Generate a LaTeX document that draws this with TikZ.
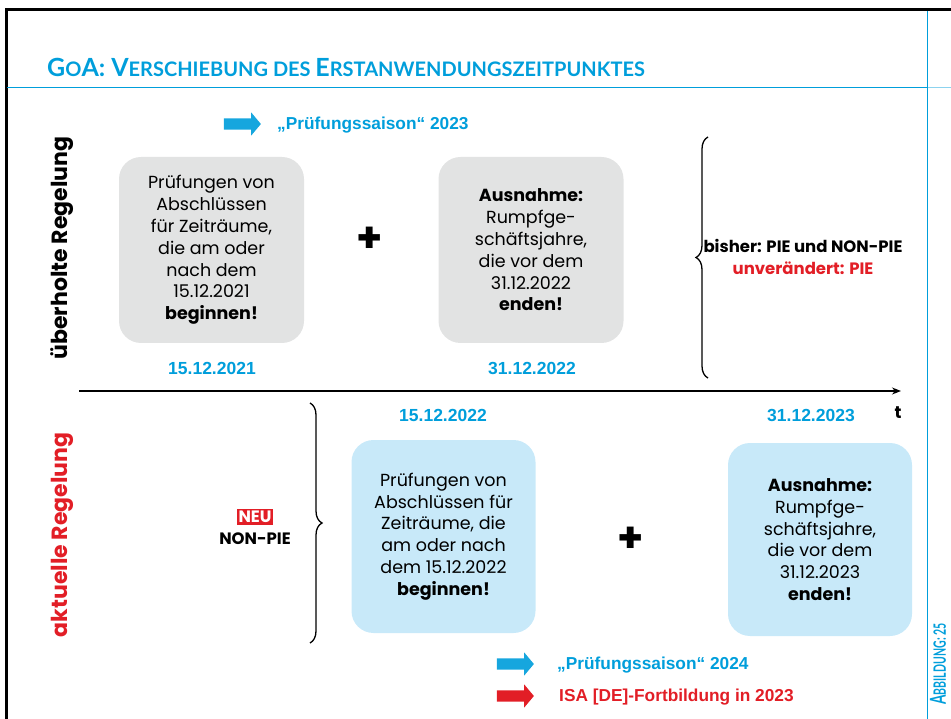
\documentclass[tikz,border=0pt]{standalone}
\usepackage{fontspec}
\setmainfont{Poppins}
\newfontfamily\titlefont{Lato}
\newfontfamily\notefont{Liberation Sans}
\usetikzlibrary{calc, arrows.meta, positioning, shapes.arrows, decorations.pathreplacing}
\definecolor{goablue}{RGB}{0,158,219}
\definecolor{goared}{RGB}{226,30,38}
\definecolor{boxgray}{RGB}{226,227,227}
\definecolor{boxblue}{RGB}{200,233,249}
\definecolor{arrowblue}{RGB}{22,166,222}
\newcommand{\capbig}[1]{{\fontsize{25}{25}\selectfont #1}}
\newcommand{\capsmall}[1]{{\fontsize{20}{20}\selectfont #1}}

\begin{document}
\begin{tikzpicture}[
    x=1pt, y=-1pt,
    title/.style={font=\titlefont\bfseries, text=goablue, inner sep=0pt},
    gray box/.style={fill=boxgray, rounded corners=22pt, minimum width=185pt, minimum height=186pt, align=center, font=\fontsize{17.5}{21.8}\selectfont},
    blue box/.style={gray box, fill=boxblue, minimum width=184pt, minimum height=193pt},
    plus/.style={font=\fontsize{42}{42}\selectfont\bfseries},
    date/.style={font=\notefont\fontsize{17.5}{17.5}\selectfont\bfseries, text=goablue},
    season/.style={font=\notefont\fontsize{17.3}{17.3}\selectfont\bfseries, text=goablue, anchor=west, inner sep=0pt},
    blue arrow/.style={single arrow, fill=arrowblue, minimum height=37pt, inner xsep=0pt, inner ysep=5.5pt, single arrow head extend=6pt, single arrow tip angle=100},
    red arrow/.style={blue arrow, fill=goared},
    brace/.style={decorate, decoration={brace, amplitude=12pt}, line width=1.3pt},
    side label/.style={rotate=90, font=\fontsize{22}{22}\selectfont\bfseries},
    info/.style={align=center, font=\fontsize{16.5}{22}\selectfont\bfseries}
]
\useasboundingbox (0,0) rectangle (951,719);

% Frame
\draw[line width=3pt] (6,719) -- (6,9.5) -- (951,9.5);
\draw[goablue, line width=1pt] (7,88) -- (927,88);
\draw[goablue!45, line width=1pt] (927,88) -- (951,88);
\draw[goablue, line width=0.8pt] (927,11) -- (927,719);

% Title
\node[title, anchor=base west] (title) at (47,77)
  {\capbig{G}\capsmall{O}\capbig{A: V}\capsmall{ERSCHIEBUNG DES }\capbig{E}\capsmall{RSTANWENDUNGSZEITPUNKTES}};

% Side labels
\node[side label] (oldlabel) at (62,248) {überholte Regelung};
\node[side label, text=goared] (newlabel) at (62,535) {aktuelle Regelung};

% Old regulation
\node[blue arrow] (arr23) at (240,124) {};
\node[season] (season23) at (277,125) {„Prüfungssaison“ 2023};
\node[gray box] (old1) at (211.5,250)
  {Prüfungen von\\Abschlüssen\\für Zeiträume,\\die am oder\\nach dem\\15.12.2021\\\textbf{beginnen!}};
\node[plus] (plus1) at (370,240) {+};
\node[gray box] (old2) at (531,250)
  {\textbf{Ausnahme:}\\Rumpfge-\\schäftsjahre,\\die vor dem\\31.12.2022\\\textbf{enden!}};
\coordinate (ob1) at (708,378);
\coordinate (ob2) at (708,137);
\draw[brace] (ob1) -- (ob2);
\node[info] (oldtext) at (803,257)
  {bisher: PIE und NON-PIE\\\textcolor{goared}{unverändert: PIE}};
\node[date] (d1) at (212,368) {15.12.2021};
\node[date] (d2) at (532,368) {31.12.2022};

% Timeline
\coordinate (t0) at (79,391);
\coordinate (t1) at (901,391);
\draw[line width=1.3pt, -{Stealth[length=9pt, width=7pt]}] (t0) -- (t1);
\node[font=\fontsize{17}{17}\selectfont\bfseries] (t) at (898,413) {t};

% Current regulation
\node[date] (d3) at (443,415) {15.12.2022};
\node[date] (d4) at (811,415) {31.12.2023};
\coordinate (nb1) at (310,403);
\coordinate (nb2) at (310,643);
\draw[brace] (nb1) -- (nb2);
\node[fill=goared, text=white, font=\fontsize{16.5}{16.5}\selectfont\bfseries, inner xsep=1.5pt, inner ysep=2.5pt] (neu) at (255,517) {NEU};
\node[font=\fontsize{16.5}{16.5}\selectfont\bfseries, below=4pt of neu] (nonpie) {NON-PIE};
\node[blue box] (new1) at (443.5,536.5)
  {Prüfungen von\\Abschlüssen für\\Zeiträume, die\\am oder nach\\dem 15.12.2022\\\textbf{beginnen!}};
\node[plus] (plus2) at (631,540) {+};
\node[blue box] (new2) at (820,539.5)
  {\textbf{Ausnahme:}\\Rumpfge-\\schäftsjahre,\\die vor dem\\31.12.2023\\\textbf{enden!}};

% Bottom notes
\node[blue arrow] (arr24) at (513,664) {};
\node[season] (season24) at (557,665) {„Prüfungssaison“ 2024};
\node[red arrow] (arrisa) at (513,696) {};
\node[season, text=goared] (isa) at (559,697) {ISA [DE]-Fortbildung in 2023};

% Figure number
\node[title, rotate=90] (fig) at (938,664)
  {\scalebox{0.62}[1]{{\fontsize{22}{22}\selectfont A}{\fontsize{17}{17}\selectfont BBILDUNG: 25}}};
\end{tikzpicture}
\end{document}
